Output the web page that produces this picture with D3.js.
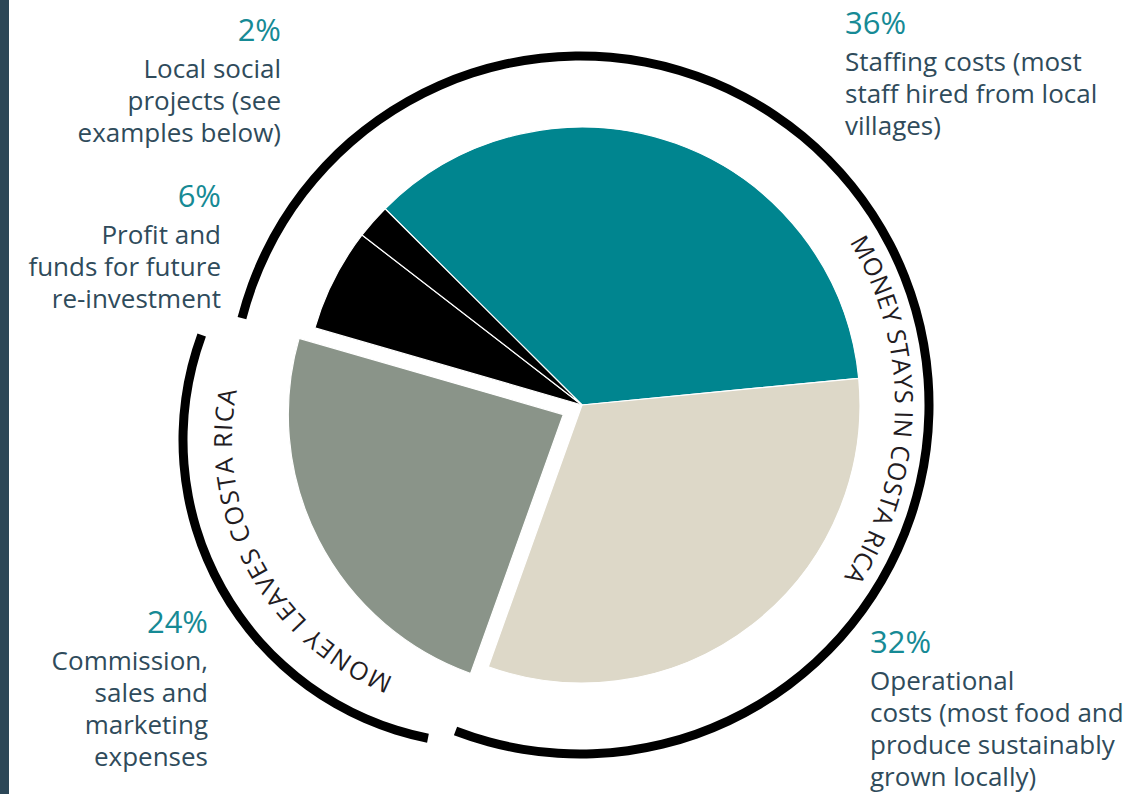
<!DOCTYPE html>
<html>
<head>
<meta charset="utf-8">
<script src="https://cdn.jsdelivr.net/npm/d3@7"></script>
<style>
  body { margin: 0; background: #fff; }
  svg { display: block; }
  text { font-family: "Open Sans", sans-serif; }
</style>
</head>
<body>
<div id="chart"></div>
<script>
// Data
var categories = ["Staffing", "Operational", "Commission", "Profit", "Social"];
var values = [36, 32, 24, 6, 2];
var pctLabels = ["36%", "32%", "24%", "6%", "2%"];
var descLines = [
    ["Staffing costs (most", "staff hired from local", "villages)"],
    ["Operational", "costs (most food and", "produce sustainably", "grown locally)"],
    ["Commission,", "sales and", "marketing", "expenses"],
    ["Profit and", "funds for future", "re-investment"],
    ["Local social", "projects (see", "examples below)"]
];
var ringLabels = ["MONEY STAYS IN COSTA RICA", "MONEY LEAVES COSTA RICA"];

// Layout
var width = 1136, height = 794;
var deg = Math.PI / 180;
var cx = 582, cy = 405, radius = 278;
var colors = ["#00858f", "#ddd8c8", "#8a9489", "#000000", "#000000"];
var explodeIndex = 2, explodeDist = 21;

// label anchors: [x, y of percent baseline, text-anchor]
var labelPos = [
    [845, 34, "start"],
    [870, 653, "start"],
    [208, 633, "end"],
    [221, 207, "end"],
    [281, 41, "end"]
];

var svg = d3.select("#chart").append("svg")
    .attr("width", width)
    .attr("height", height);

// dark strip on the left edge
svg.append("rect")
    .attr("x", 0).attr("y", 0)
    .attr("width", 9).attr("height", height)
    .attr("fill", "#2c4757");

var start = -45.1 * deg;
var pie = d3.pie().sort(null).value(function(d) { return d; })
    .startAngle(start).endAngle(start + 2 * Math.PI);
var arcs = pie(values);

var arc = d3.arc().innerRadius(0).outerRadius(radius);

var g = svg.append("g").attr("transform", "translate(" + cx + "," + cy + ")");

g.selectAll("path.slice")
    .data(arcs)
    .enter().append("path")
    .attr("class", "slice")
    .attr("d", function(d, i) { return i === explodeIndex ? arc.outerRadius(radius - 3)(d) : arc.outerRadius(radius)(d); })
    .attr("fill", function(d, i) { return colors[i]; })
    .attr("stroke", "#fff")
    .attr("stroke-width", 1.2)
    .attr("stroke-linejoin", "round")
    .attr("transform", function(d, i) {
        if (i !== explodeIndex) return null;
        var mid = (d.startAngle + d.endAngle) / 2;
        return "translate(" + (Math.sin(mid) * explodeDist) + "," + (-Math.cos(mid) * explodeDist) + ")";
    });

// Outer rings: money stays / money leaves
var rings = [
    {cx: 580, cy: 405, r: 349, a0: -75.6, a1: 200.9, textR: 315, textMid: 91, spacing: 0.4},
    {cx: 487, cy: 440, r: 304, a0: 191.2, a1: 290.2, textR: 255, textMid: 241.5, spacing: 1.3}
];

rings.forEach(function(rg, i) {
    var rg_g = svg.append("g").attr("transform", "translate(" + rg.cx + "," + rg.cy + ")");
    rg_g.append("path")
        .attr("d", d3.arc()
            .innerRadius(rg.r - 4.5).outerRadius(rg.r + 4.5)
            .startAngle(rg.a0 * deg).endAngle(rg.a1 * deg)())
        .attr("fill", "#000");

    // clockwise path for the text, centred on textMid
    var p = d3.path();
    var half = 80;
    p.arc(0, 0, rg.textR, (rg.textMid - half - 90) * deg, (rg.textMid + half - 90) * deg, false);
    rg_g.append("path")
        .attr("id", "ringpath" + i)
        .attr("d", p.toString())
        .attr("fill", "none");

    rg_g.append("text")
        .attr("font-size", "25px")
        .attr("letter-spacing", rg.spacing + "px")
        .attr("fill", "#231c1f")
        .append("textPath")
        .attr("href", "#ringpath" + i)
        .attr("startOffset", "50%")
        .attr("text-anchor", "middle")
        .text(ringLabels[i]);
});

// Labels, one text per line
labelPos.forEach(function(pos, i) {
    svg.append("text")
        .attr("x", pos[0])
        .attr("y", pos[1])
        .attr("text-anchor", pos[2])
        .attr("font-size", "31px")
        .attr("fill", "#168a95")
        .text(pctLabels[i]);
    descLines[i].forEach(function(line, j) {
        svg.append("text")
            .attr("x", pos[0])
            .attr("y", pos[1] + 37 + j * 32)
            .attr("text-anchor", pos[2])
            .attr("font-size", "26px")
            .attr("fill", "#2f4b5b")
            .text(line);
    });
});
</script>
</body>
</html>
